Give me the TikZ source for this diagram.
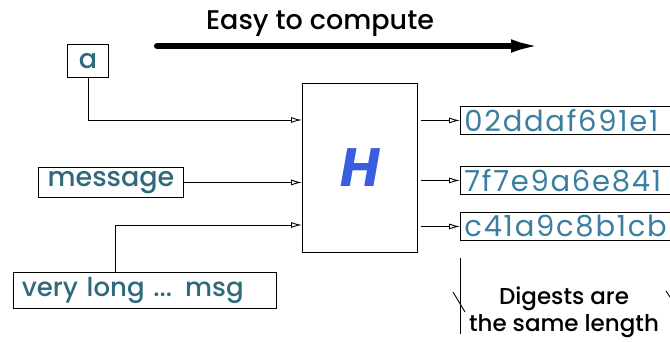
\documentclass[tikz,border=0pt]{standalone}
\usepackage{fontspec}
\setmainfont{Poppins}
\newfontfamily\medfont{Poppins Medium}
\newfontfamily\dgfont[LetterSpace=6]{Poppins}
\usetikzlibrary{arrows.meta}
\definecolor{intxt}{HTML}{2F6A7C}
\definecolor{dgtxt}{HTML}{3A7FA0}
\definecolor{hblue}{HTML}{3A5CE0}
\tikzset{
  inbox/.style={draw, line width=0.9pt, inner sep=0pt, text=intxt, font=\medfont\fontsize{27}{27}\selectfont, anchor=north west},
  dgbox/.style={draw, line width=0.9pt, inner sep=0pt, text=dgtxt, font=\dgfont\fontsize{29}{29}\selectfont, anchor=north west, minimum width=240pt, minimum height=28pt, text width=236pt, align=left},
  conn/.style={line width=0.9pt, -{Latex[open,length=11pt,width=6pt]}},
}
\begin{document}
\begin{tikzpicture}[x=1pt,y=-1pt]
\clip (0,0) rectangle (670,341);
\fill[white] (0,0) rectangle (670,341);
% title
\node[font=\medfont\fontsize{27}{27}\selectfont] (title) at (320,24) {Easy to compute};
\coordinate (bs) at (157,46);
\coordinate (be) at (547,46);
\draw[line width=6pt, line cap=round, -{Latex[length=36pt,width=13pt]}] (bs) -- (be);
% inputs
\node[inbox, minimum width=41pt, minimum height=33pt] (a) at (67,44) {a};
\node[inbox, minimum width=145pt, minimum height=30pt] (msg) at (38,167) {message};
\node[inbox, minimum width=263pt, minimum height=36pt, text width=254pt, align=left, font=\medfont\fontsize{26}{26}\selectfont] (long) at (13,272) {\hspace*{4pt}very long ... msg};
% hash box
\node[draw, line width=0.9pt, anchor=north west, minimum width=115pt, minimum height=169pt, inner sep=0pt] (H) at (302,83) {};
\node[text=hblue, font=\fontsize{54}{54}\selectfont\bfseries\itshape] (Hl) at (H.center) {H};
% connectors in
\draw[conn] (a.south -| 88,0) |- (H.west |- 0,120);
\draw[conn] (msg.east) -- (H.west |- msg.east);
\draw[conn] (long.north -| 115,0) |- (H.west |- 0,225);
% digests
\node[dgbox] (d1) at (460,106) {\hspace*{2pt}02ddaf691e1};
\node[dgbox] (d2) at (460,166) {\hspace*{2pt}7f7e9a6e841};
\node[dgbox] (d3) at (460,212) {\hspace*{2pt}c41a9c8b1cb};
\draw[conn] (H.east |- d1.west) ++(3,0) coordinate (o1) -- (d1.west);
\draw[conn] (H.east |- d2.west) ++(3,0) coordinate (o2) -- (d2.west);
\draw[conn] (H.east |- d3.west) ++(3,0) coordinate (o3) -- (d3.west);
% annotation
\coordinate (v1) at (460,258);
\coordinate (v2) at (460,334);
\draw[line width=0.9pt] (v1) -- (v2);
\coordinate (t1) at (453,292);
\coordinate (t2) at (465,312);
\draw[line width=0.9pt] (t1) -- (t2);
\coordinate (t3) at (666,291);
\coordinate (t4) at (676,306);
\draw[line width=0.9pt] (t3) -- (t4);
\node[font=\medfont\fontsize{23}{27}\selectfont, align=center] (note) at (564,312) {Digests are\\the same length};
\end{tikzpicture}
\end{document}
